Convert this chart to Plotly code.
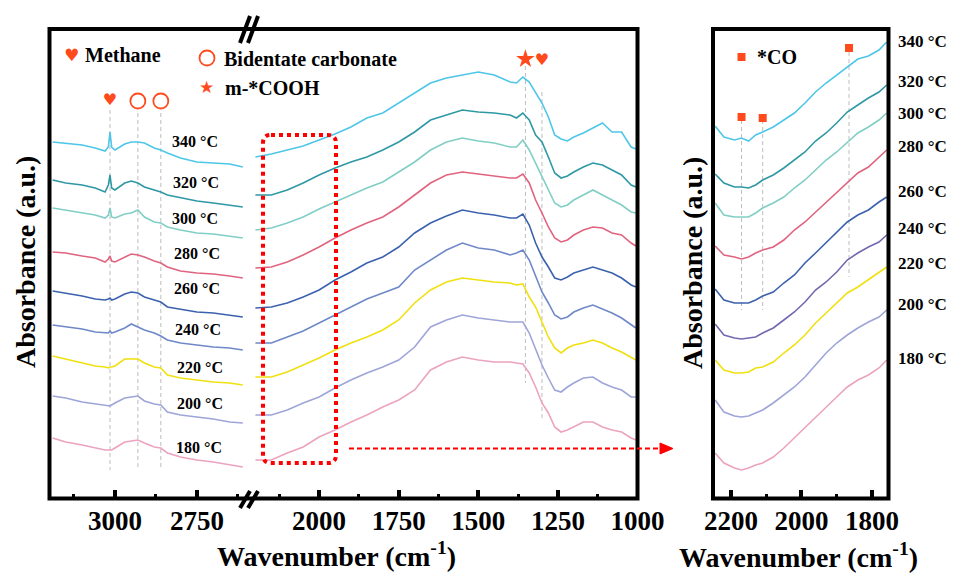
import plotly.graph_objects as go

W, H = 959, 574

temps = [180, 200, 220, 240, 260, 280, 300, 320, 340]
colors_main = ["#EBA3BF", "#9EA5D8", "#F0E010", "#6E88C8", "#3C62AE", "#E0647F", "#80CEC5", "#2E98A4", "#4EC6E8"]
colors_zoom = ["#EBA3BF", "#9EA5D8", "#F0E010", "#7567B0", "#3C62AE", "#E0647F", "#80CEC5", "#2E98A4", "#4EC6E8"]

# ---- left segment (3200-2600 cm-1) ----
wn_left = [3190, 3150, 3100, 3060, 3030, 3020, 3015, 3010, 3000, 2970, 2950, 2930, 2910, 2880, 2860, 2840, 2800, 2750, 2700, 2650, 2610]
left_340 = [356, 355, 353, 350, 347, 351, 366, 351, 348, 354, 356, 356, 355, 350, 348, 345, 340, 336, 335, 334, 331]
left_320 = [318, 315, 313, 310, 306, 313, 323, 310, 308, 315, 317, 315, 311, 308, 306, 303, 300, 297, 295, 293, 291]
left_300 = [290, 288, 285, 283, 280, 283, 290, 281, 280, 284, 285, 288, 281, 276, 275, 271, 268, 265, 264, 262, 260]
left_280 = [246, 245, 242, 240, 236, 239, 242, 237, 236, 241, 244, 243, 241, 237, 235, 231, 227, 225, 224, 222, 220]
left_260 = [207, 205, 202, 199, 198, 199, 200, 198, 199, 204, 206, 205, 201, 198, 196, 191, 189, 186, 185, 183, 181]
left_240 = [173, 171, 169, 166, 165, 165, 167, 165, 166, 170, 174, 171, 168, 165, 162, 158, 155, 153, 151, 150, 148]
left_220 = [142, 139, 135, 132, 131, 130, 131, 131, 132, 139, 139, 139, 135, 131, 130, 123, 120, 118, 116, 115, 113]
left_200 = [102, 100, 96, 94, 92, 92, 92, 93, 95, 100, 101, 102, 97, 94, 93, 86, 83, 81, 79, 76, 75]
left_180 = [60, 56, 53, 50, 48, 48, 48, 48, 50, 56, 57, 58, 55, 51, 50, 45, 41, 38, 36, 33, 31]

# ---- middle segment (2200-1000 cm-1) ----
wn_mid = [2200, 2150, 2100, 2050, 2000, 1950, 1900, 1850, 1800, 1750, 1700, 1650, 1600, 1550, 1500, 1450, 1400,
          1380, 1360, 1340, 1320, 1300, 1280, 1260, 1240, 1220, 1200, 1170, 1140, 1110, 1080, 1050, 1020, 1005]
mid_340 = [341, 344, 348, 352, 358, 364, 371, 380, 385, 395, 405, 415, 420, 423, 426, 423, 416, 415, 421, 416, 405, 395, 381, 363, 359, 357, 361, 365, 370, 375, 366, 366, 351, 349]
mid_320 = [303, 303, 308, 315, 323, 330, 336, 341, 348, 356, 366, 378, 383, 388, 386, 385, 383, 380, 385, 378, 363, 356, 341, 325, 320, 322, 326, 331, 335, 333, 328, 323, 313, 311]
mid_300 = [268, 270, 275, 281, 289, 296, 303, 310, 316, 326, 336, 348, 356, 360, 357, 355, 351, 351, 358, 348, 335, 321, 308, 295, 291, 293, 298, 303, 308, 303, 298, 293, 286, 285]
mid_280 = [230, 231, 236, 243, 251, 260, 268, 275, 281, 291, 303, 315, 323, 326, 324, 322, 320, 320, 324, 315, 298, 285, 271, 260, 256, 258, 263, 268, 271, 270, 265, 263, 255, 252]
mid_260 = [190, 191, 195, 201, 208, 218, 226, 235, 241, 251, 265, 275, 282, 288, 285, 283, 280, 280, 284, 273, 255, 241, 231, 220, 218, 221, 225, 228, 231, 228, 225, 220, 213, 211]
mid_240 = [155, 155, 161, 167, 175, 183, 191, 199, 205, 211, 228, 238, 248, 255, 250, 248, 243, 245, 248, 238, 221, 206, 195, 183, 179, 181, 186, 190, 193, 189, 185, 180, 173, 170]
mid_220 = [121, 121, 126, 133, 140, 148, 155, 161, 168, 178, 195, 208, 216, 220, 218, 216, 215, 213, 214, 201, 191, 175, 161, 150, 145, 150, 153, 155, 158, 155, 150, 146, 141, 138]
mid_200 = [83, 83, 88, 95, 101, 110, 118, 125, 131, 138, 151, 171, 178, 183, 180, 178, 176, 176, 176, 165, 148, 133, 120, 108, 106, 111, 115, 120, 121, 115, 111, 108, 101, 101]
mid_180 = [38, 38, 45, 51, 61, 68, 76, 83, 91, 98, 108, 128, 136, 141, 138, 136, 136, 135, 134, 125, 111, 95, 85, 71, 66, 68, 71, 76, 76, 71, 68, 66, 60, 58]

# ---- zoomed panel (2250-1750 cm-1) ----
wn_zoom = [2245, 2220, 2190, 2170, 2150, 2130, 2110, 2080, 2050, 2020, 1990, 1960, 1930, 1900, 1870, 1840, 1810, 1780, 1758]
zoom_340 = [372, 361, 358, 360, 357, 363, 366, 371, 378, 385, 395, 406, 415, 423, 431, 439, 442, 448, 456]
zoom_320 = [324, 315, 311, 311, 310, 313, 318, 323, 330, 338, 346, 357, 365, 375, 386, 393, 400, 406, 413]
zoom_300 = [295, 283, 281, 281, 281, 285, 290, 295, 301, 310, 318, 328, 338, 346, 356, 365, 371, 378, 385]
zoom_280 = [252, 243, 241, 239, 241, 245, 248, 251, 258, 268, 276, 286, 296, 305, 315, 325, 331, 341, 348]
zoom_260 = [209, 198, 195, 195, 195, 198, 202, 206, 215, 223, 235, 245, 255, 265, 276, 283, 288, 296, 301]
zoom_240 = [174, 163, 160, 159, 160, 161, 165, 170, 178, 186, 196, 208, 216, 226, 238, 245, 251, 256, 263]
zoom_220 = [138, 128, 125, 125, 126, 130, 131, 136, 145, 153, 163, 175, 185, 195, 205, 211, 218, 225, 231]
zoom_200 = [98, 86, 82, 81, 82, 85, 88, 95, 103, 111, 121, 133, 145, 155, 163, 170, 176, 181, 188]
zoom_180 = [45, 35, 30, 28, 30, 33, 35, 41, 50, 60, 70, 81, 90, 101, 111, 118, 123, 130, 138]

# peak markers
methane_left = [3015]
methane_mid = [1300]
carbonate_peaks = [2930, 2860]
cooh_peak = [1352]
co_peaks = [2170, 2110, 1865]

left_series = [left_180, left_200, left_220, left_240, left_260, left_280, left_300, left_320, left_340]
mid_series = [mid_180, mid_200, mid_220, mid_240, mid_260, mid_280, mid_300, mid_320, mid_340]
zoom_series = [zoom_180, zoom_200, zoom_220, zoom_240, zoom_260, zoom_280, zoom_300, zoom_320, zoom_340]

SERIF = "Liberation Serif"
SYM = "DejaVu Sans"
RED = "#FF4A1E"


def px(x):
    return x / W


def py(y):
    return 1 - y / H


fig = go.Figure()
for i, t in enumerate(temps):
    fig.add_trace(go.Scatter(x=wn_left, y=left_series[i], mode="lines", xaxis="x", yaxis="y",
                             line=dict(color=colors_main[i], width=1.6), showlegend=False, name=f"{t} °C"))
    fig.add_trace(go.Scatter(x=wn_mid, y=mid_series[i], mode="lines", xaxis="x2", yaxis="y",
                             line=dict(color=colors_main[i], width=1.6), showlegend=False, name=f"{t} °C"))
    fig.add_trace(go.Scatter(x=wn_zoom, y=zoom_series[i], mode="lines", xaxis="x3", yaxis="y2",
                             line=dict(color=colors_zoom[i], width=1.6), showlegend=False, name=f"{t} °C"))

# peak symbols
fig.add_trace(go.Scatter(x=methane_left, y=[397], mode="text", text=["♥"], xaxis="x", yaxis="y",
                         textfont=dict(family=SYM, size=16, color=RED), showlegend=False))
fig.add_trace(go.Scatter(x=methane_mid, y=[437], mode="text", text=["♥"], xaxis="x2", yaxis="y",
                         textfont=dict(family=SYM, size=16, color=RED), showlegend=False))
fig.add_trace(go.Scatter(x=carbonate_peaks, y=[397, 397], mode="markers", xaxis="x", yaxis="y",
                         marker=dict(symbol="circle-open", size=15, color=RED, line=dict(width=1.8, color=RED)),
                         showlegend=False))
fig.add_trace(go.Scatter(x=cooh_peak, y=[439], mode="markers", xaxis="x2", yaxis="y",
                         marker=dict(symbol="star", size=14, color=RED), showlegend=False))
fig.add_trace(go.Scatter(x=co_peaks, y=[381, 380, 450], mode="markers", xaxis="x3", yaxis="y2",
                         marker=dict(symbol="square", size=8, color=RED), showlegend=False))

shapes = []
guide = dict(color="#BDBDBD", width=1, dash="4px,3px")
for wn in methane_left + carbonate_peaks:
    y0 = 388 if wn in methane_left else 385
    shapes.append(dict(type="line", xref="x", yref="y", x0=wn, x1=wn, y0=y0, y1=28, line=guide, layer="below"))
shapes.append(dict(type="line", xref="x2", yref="y", x0=cooh_peak[0], x1=cooh_peak[0], y0=432, y1=115, line=guide, layer="below"))
shapes.append(dict(type="line", xref="x2", yref="y", x0=methane_mid[0], x1=methane_mid[0], y0=406, y1=78, line=guide, layer="below"))
for wn, (a, b) in zip(co_peaks, [(378, 188), (378, 188), (446, 221)]):
    shapes.append(dict(type="line", xref="x3", yref="y2", x0=wn, x1=wn, y0=a, y1=b, line=guide, layer="below"))

# frames
for (x0, x1) in [(49.5, 637.5), (713, 888.5)]:
    shapes.append(dict(type="rect", xref="paper", yref="paper", x0=px(x0), x1=px(x1), y0=py(498.5), y1=py(29),
                       line=dict(color="black", width=4)))
# break marks
for (xa, xb, ya, yb) in [(240, 250, 43, 16), (248, 258, 43, 16), (240, 250, 508, 491), (248, 258, 508, 491)]:
    shapes.append(dict(type="line", xref="paper", yref="paper", x0=px(xa), x1=px(xb), y0=py(ya), y1=py(yb),
                       line=dict(color="black", width=4)))


# red dotted rounded box
def rounded_path(x0, y0, x1, y1, r):
    pts = [
        ("M", x0 + r, y0), ("L", x1 - r, y0), ("Q", x1, y0, x1, y0 + r), ("L", x1, y1 - r),
        ("Q", x1, y1, x1 - r, y1), ("L", x0 + r, y1), ("Q", x0, y1, x0, y1 - r), ("L", x0, y0 + r),
        ("Q", x0, y0, x0 + r, y0)]
    s = ""
    for p in pts:
        if p[0] == "Q":
            s += f"Q{px(p[1]):.5f},{py(p[2]):.5f} {px(p[3]):.5f},{py(p[4]):.5f} "
        else:
            s += f"{p[0]}{px(p[1]):.5f},{py(p[2]):.5f} "
    return s + "Z"


shapes.append(dict(type="path", xref="paper", yref="paper", path=rounded_path(263, 135, 336, 463, 8),
                   line=dict(color="#FF0000", width=4, dash="dot")))
# dashed arrow
shapes.append(dict(type="line", xref="paper", yref="paper", x0=px(349), x1=px(662), y0=py(448.5), y1=py(448.5),
                   line=dict(color="#FF0000", width=2, dash="5px,3px")))
shapes.append(dict(type="path", xref="paper", yref="paper",
                   path=f"M{px(660):.5f},{py(443):.5f} L{px(673):.5f},{py(448.5):.5f} L{px(660):.5f},{py(454):.5f} Z",
                   fillcolor="#FF0000", line=dict(color="#FF0000", width=1)))
# legend circle
shapes.append(dict(type="circle", xref="paper", yref="paper", xsizemode="pixel", ysizemode="pixel",
                   xanchor=px(207), yanchor=py(58), x0=-7.5, x1=7.5, y0=-7.5, y1=7.5,
                   line=dict(color=RED, width=1.8)))
# legend square for *CO
shapes.append(dict(type="rect", xref="paper", yref="paper", xsizemode="pixel", ysizemode="pixel",
                   xanchor=px(741.5), yanchor=py(57), x0=-4, x1=4, y0=-4, y1=4,
                   fillcolor=RED, line=dict(width=0)))

ann = []


def txt(x, y, s, size, xanchor="center", family=SERIF, color="black", angle=0):
    ann.append(dict(x=px(x), y=py(y), xref="paper", yref="paper", text=s, showarrow=False,
                    xanchor=xanchor, yanchor="middle", textangle=angle,
                    font=dict(family=family, size=size, color=color)))


# legend texts
txt(71, 55, "♥", 17, family=SYM, color=RED)
txt(83, 55, "<b>Methane</b>", 20, xanchor="left")
txt(222, 59, "<b>Bidentate carbonate</b>", 20, xanchor="left")
txt(206, 87, "★", 17, family=SYM, color=RED)
txt(223, 88, "<b>m-*COOH</b>", 20, xanchor="left")
txt(755, 57, "<b>*CO</b>", 20, xanchor="left")

# temperature labels
left_lab_y = [447, 403, 367, 329, 288, 254, 218, 183, 142]
left_lab_x = [199, 200, 200, 198, 197, 197, 195, 196, 195]
right_lab_y = [358, 304, 263, 229, 191, 146, 113, 81, 42]
for i, t in enumerate(temps):
    txt(left_lab_x[i], left_lab_y[i], f"<b>{t} °C</b>", 16)
    txt(896, right_lab_y[i], f"<b>{t} °C</b>", 17, xanchor="left")

# axis titles
txt(336, 554, "<b>Wavenumber (cm<sup>-1</sup>)</b>", 28)
txt(798, 555, "<b>Wavenumber (cm<sup>-1</sup>)</b>", 28)
txt(25, 262, "<b>Absorbance (a.u.)</b>", 28, angle=-90)
txt(692, 263, "<b>Absorbance (a.u.)</b>", 28, angle=-90)

xcommon = dict(showline=False, showgrid=False, zeroline=False, ticks="inside", ticklen=8, tickwidth=3.5,
               tickcolor="black", tick0=0, ticklabelstandoff=4, automargin=False,
               tickfont=dict(family=SERIF, size=27, color="black", weight="bold"))
ycommon = dict(showline=False, showgrid=False, zeroline=False, showticklabels=False, ticks="",
               range=[0, 470], domain=[py(498), py(28)], automargin=False)

fig.update_layout(
    width=W, height=H, margin=dict(l=0, r=0, t=0, b=0), autosize=False,
    paper_bgcolor="white", plot_bgcolor="white",
    xaxis=dict(domain=[px(50), px(250)], range=[3198, 2588], anchor="y", dtick=250,
               minor=dict(ticks="inside", ticklen=4, tickwidth=3, dtick=125, tickcolor="black", showgrid=False),
               **xcommon),
    xaxis2=dict(domain=[px(250), px(637.5)], range=[2217, 1000], anchor="y", dtick=250,
                minor=dict(ticks="inside", ticklen=4, tickwidth=3, dtick=125, tickcolor="black", showgrid=False),
                **xcommon),
    xaxis3=dict(domain=[px(713), px(888.5)], range=[2251, 1753], anchor="y2", dtick=200,
                minor=dict(ticks="inside", ticklen=4, tickwidth=3, dtick=100, tickcolor="black", showgrid=False),
                **xcommon),
    yaxis=dict(anchor="x", **ycommon),
    yaxis2=dict(anchor="x3", **ycommon),
    shapes=shapes,
    annotations=ann,
)

fig.write_html("out.html", config={"displayModeBar": False},
               post_script="document.body.style.margin='0';document.body.style.overflow='hidden';")
